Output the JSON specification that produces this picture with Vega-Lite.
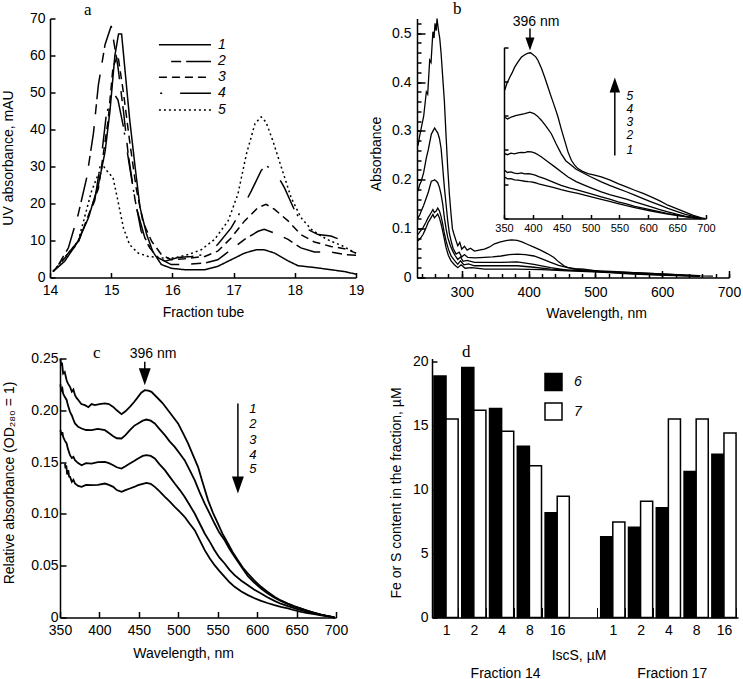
{
"$schema": "https://vega.github.io/schema/vega-lite/v6.json",
"background": "white",
"padding": {"left": 1, "top": -0.5, "right": 0, "bottom": 0},
"columns": 2,
"align": "none",
"bounds": "flush",
"spacing": {"row": 81, "column": 61},
"resolve": {"legend": {"fill": "independent"}},
"config": {
 "font": "Liberation Sans",
 "view": {"stroke": null},
 "axis": {"grid": false, "domainColor": "black", "domainWidth": 1.5, "tickColor": "black", "tickWidth": 1.5, "labelFont": "Liberation Sans", "labelFontSize": 14, "labelColor": "black", "titleFont": "Liberation Sans", "titleFontSize": 14, "titleFontWeight": "normal", "titleColor": "black", "labelFlush": false, "labelOverlap": false, "labelBound": false},
 "legend": {"labelFont": "Liberation Sans"},
 "text": {"font": "Liberation Sans", "fontSize": 14, "color": "black"}
},
"datasets": {
 "a": [
  {"s":"1","x":14.05,"y":1.6},{"s":"1","x":14.24,"y":4.4},{"s":"1","x":14.46,"y":9.8},{"s":"1","x":14.63,"y":16.2},{"s":"1","x":14.79,"y":25},{"s":"1","x":14.9,"y":34},{"s":"1","x":14.98,"y":45},{"s":"1","x":15.06,"y":60},{"s":"1","x":15.12,"y":65.8},{"s":"1","x":15.17,"y":65.8},{"s":"1","x":15.22,"y":57},{"s":"1","x":15.3,"y":43},{"s":"1","x":15.39,"y":30},{"s":"1","x":15.47,"y":19},{"s":"1","x":15.58,"y":11.6},{"s":"1","x":15.68,"y":7},{"s":"1","x":15.82,"y":3.5},{"s":"1","x":15.98,"y":2.5},{"s":"1","x":16.2,"y":2.1},{"s":"1","x":16.53,"y":2.1},{"s":"1","x":16.74,"y":3},{"s":"1","x":16.96,"y":4.8},{"s":"1","x":17.18,"y":6.6},{"s":"1","x":17.37,"y":7.5},{"s":"1","x":17.5,"y":7.5},{"s":"1","x":17.67,"y":6.6},{"s":"1","x":17.89,"y":4.5},{"s":"1","x":18.05,"y":3.2},{"s":"1","x":18.32,"y":2.7},{"s":"1","x":18.59,"y":2.1},{"s":"1","x":18.81,"y":1.6},{"s":"1","x":19,"y":0.9},
  {"s":"2","x":14.14,"y":3.5},{"s":"2","x":14.3,"y":8},{"s":"2","x":14.46,"y":17},{"s":"2","x":14.6,"y":27},{"s":"2","x":14.71,"y":39},{"s":"2","x":14.79,"y":52},{"s":"2","x":14.9,"y":63},{"s":"2","x":15.0,"y":68},{"s":"2","x":15.11,"y":57},{"s":"2","x":15.2,"y":45},{"s":"2","x":15.28,"y":33},{"s":"2","x":15.39,"y":21},{"s":"2","x":15.49,"y":12.5},{"s":"2","x":15.63,"y":8},{"s":"2","x":15.77,"y":5.3},{"s":"2","x":15.98,"y":3.5},{"s":"2","x":16.2,"y":3.5},{"s":"2","x":16.53,"y":3.9},{"s":"2","x":16.74,"y":4.8},{"s":"2","x":16.96,"y":7.5},{"s":"2","x":17.18,"y":10.3},{"s":"2","x":17.4,"y":12.5},{"s":"2","x":17.5,"y":13},{"s":"2","x":17.67,"y":12},{"s":"2","x":17.89,"y":10.3},{"s":"2","x":18.1,"y":8},{"s":"2","x":18.32,"y":6.9},{"s":"2","x":18.59,"y":6.9},{"s":"2","x":18.81,"y":6.2},{"s":"2","x":19,"y":6},
  {"s":"3","x":14.05,"y":1.6},{"s":"3","x":14.46,"y":9.4},{"s":"3","x":14.79,"y":24},{"s":"3","x":14.95,"y":42.5},{"s":"3","x":15.03,"y":57},{"s":"3","x":15.11,"y":60},{"s":"3","x":15.2,"y":50},{"s":"3","x":15.3,"y":37},{"s":"3","x":15.41,"y":24},{"s":"3","x":15.52,"y":15},{"s":"3","x":15.66,"y":9.8},{"s":"3","x":15.82,"y":6.2},{"s":"3","x":15.98,"y":4.8},{"s":"3","x":16.2,"y":5.1},{"s":"3","x":16.53,"y":5.7},{"s":"3","x":16.74,"y":7.1},{"s":"3","x":16.96,"y":10.7},{"s":"3","x":17.18,"y":15.3},{"s":"3","x":17.4,"y":18.9},{"s":"3","x":17.53,"y":19.8},{"s":"3","x":17.67,"y":18.4},{"s":"3","x":17.89,"y":15.3},{"s":"3","x":18.1,"y":11.6},{"s":"3","x":18.32,"y":9.6},{"s":"3","x":18.59,"y":8.4},{"s":"3","x":18.81,"y":7.8},{"s":"3","x":19,"y":6.6},
  {"s":"4","x":14.05,"y":1.6},{"s":"4","x":14.46,"y":9.8},{"s":"4","x":14.73,"y":20.7},{"s":"4","x":14.84,"y":32.5},{"s":"4","x":14.92,"y":44},{"s":"4","x":15.0,"y":49},{"s":"4","x":15.06,"y":49.3},{"s":"4","x":15.11,"y":48},{"s":"4","x":15.2,"y":40.7},{"s":"4","x":15.3,"y":30},{"s":"4","x":15.41,"y":19},{"s":"4","x":15.55,"y":10.7},{"s":"4","x":15.71,"y":6.2},{"s":"4","x":15.88,"y":4.4},{"s":"4","x":16.09,"y":5.4},{"s":"4","x":16.31,"y":5.7},{"s":"4","x":16.53,"y":6.2},{"s":"4","x":16.74,"y":8.9},{"s":"4","x":16.96,"y":13.4},{"s":"4","x":17.12,"y":18},{"s":"4","x":17.29,"y":23.4},{"s":"4","x":17.45,"y":28.9},{"s":"4","x":17.53,"y":30.2},{"s":"4","x":17.67,"y":28.9},{"s":"4","x":17.83,"y":24.3},{"s":"4","x":17.99,"y":18.4},{"s":"4","x":18.16,"y":13.4},{"s":"4","x":18.38,"y":11.6},{"s":"4","x":18.59,"y":11.2},{"s":"4","x":18.7,"y":10.5},
  {"s":"5","x":14.05,"y":1.6},{"s":"5","x":14.46,"y":9.8},{"s":"5","x":14.68,"y":23.4},{"s":"5","x":14.79,"y":28},{"s":"5","x":14.87,"y":30.2},{"s":"5","x":14.95,"y":28.4},{"s":"5","x":15.03,"y":27},{"s":"5","x":15.11,"y":20.7},{"s":"5","x":15.2,"y":13.4},{"s":"5","x":15.3,"y":8.9},{"s":"5","x":15.44,"y":6.6},{"s":"5","x":15.6,"y":5.7},{"s":"5","x":15.82,"y":5.3},{"s":"5","x":16.04,"y":5.3},{"s":"5","x":16.26,"y":6.2},{"s":"5","x":16.47,"y":7.5},{"s":"5","x":16.69,"y":10.3},{"s":"5","x":16.91,"y":15.3},{"s":"5","x":17.07,"y":22.5},{"s":"5","x":17.21,"y":33.4},{"s":"5","x":17.35,"y":41.6},{"s":"5","x":17.45,"y":43.4},{"s":"5","x":17.53,"y":42},{"s":"5","x":17.64,"y":37},{"s":"5","x":17.78,"y":29.8},{"s":"5","x":17.94,"y":21.6},{"s":"5","x":18.1,"y":16.2},{"s":"5","x":18.27,"y":13},{"s":"5","x":18.43,"y":11.2},{"s":"5","x":18.59,"y":9.8},{"s":"5","x":18.76,"y":8.7},{"s":"5","x":19,"y":6.6}
 ],
 "aleg": [
  {"s":"1","x1":15.78,"x2":16.63,"y":62.9,"lx":16.81},
  {"s":"2","x1":15.98,"x2":16.63,"y":58.4,"lx":16.81},
  {"s":"3","x1":15.78,"x2":16.63,"y":54.1,"lx":16.81},
  {"s":"4","x1":15.8,"x2":16.63,"y":49.8,"lx":16.81},
  {"s":"5","x1":15.78,"x2":16.63,"y":45.3,"lx":16.81}
 ],
 "b": [
  {"s":"5","x":234.5,"y":0.27},{"s":"5","x":237,"y":0.29},{"s":"5","x":239.4,"y":0.306},{"s":"5","x":243,"y":0.33},{"s":"5","x":247,"y":0.38},{"s":"5","x":249,"y":0.375},{"s":"5","x":252,"y":0.445},{"s":"5","x":254,"y":0.44},{"s":"5","x":256.8,"y":0.503},{"s":"5","x":258.5,"y":0.49},{"s":"5","x":260,"y":0.52},{"s":"5","x":261.7,"y":0.505},{"s":"5","x":263,"y":0.53},{"s":"5","x":265,"y":0.507},{"s":"5","x":267,"y":0.49},{"s":"5","x":269,"y":0.46},{"s":"5","x":271.5,"y":0.41},{"s":"5","x":274,"y":0.36},{"s":"5","x":276.5,"y":0.29},{"s":"5","x":279,"y":0.224},{"s":"5","x":281.5,"y":0.17},{"s":"5","x":284,"y":0.129},{"s":"5","x":286,"y":0.1},{"s":"5","x":288,"y":0.09},{"s":"5","x":291.5,"y":0.075},{"s":"5","x":294,"y":0.065},{"s":"5","x":297,"y":0.072},{"s":"5","x":300,"y":0.058},{"s":"5","x":304,"y":0.064},{"s":"5","x":308,"y":0.056},{"s":"5","x":313,"y":0.06},{"s":"5","x":319,"y":0.054},{"s":"5","x":326,"y":0.056},{"s":"5","x":334,"y":0.058},{"s":"5","x":341,"y":0.062},{"s":"5","x":349,"y":0.069},{"s":"5","x":358,"y":0.073},{"s":"5","x":368,"y":0.076},{"s":"5","x":375,"y":0.077},{"s":"5","x":383,"y":0.076},{"s":"5","x":390,"y":0.073},{"s":"5","x":398,"y":0.068},{"s":"5","x":408,"y":0.062},{"s":"5","x":418,"y":0.056},{"s":"5","x":428,"y":0.049},{"s":"5","x":438,"y":0.041},{"s":"5","x":445,"y":0.032},{"s":"5","x":453,"y":0.024},{"s":"5","x":460,"y":0.02},{"s":"5","x":468,"y":0.017},{"s":"5","x":487,"y":0.015},{"s":"5","x":507,"y":0.0136},{"s":"5","x":532,"y":0.012},{"s":"5","x":557,"y":0.01},{"s":"5","x":582,"y":0.0085},{"s":"5","x":606,"y":0.0068},{"s":"5","x":631,"y":0.005},{"s":"5","x":656,"y":0.0034},{"s":"5","x":676,"y":0.003},
  {"s":"4","x":234.5,"y":0.177},{"s":"4","x":237,"y":0.19},{"s":"4","x":239.4,"y":0.197},{"s":"4","x":243,"y":0.215},{"s":"4","x":247,"y":0.245},{"s":"4","x":250,"y":0.262},{"s":"4","x":254.4,"y":0.293},{"s":"4","x":257,"y":0.3},{"s":"4","x":259.4,"y":0.306},{"s":"4","x":262,"y":0.3},{"s":"4","x":264,"y":0.296},{"s":"4","x":266.5,"y":0.285},{"s":"4","x":269,"y":0.265},{"s":"4","x":271.5,"y":0.225},{"s":"4","x":274,"y":0.184},{"s":"4","x":276.5,"y":0.15},{"s":"4","x":279,"y":0.116},{"s":"4","x":281.5,"y":0.09},{"s":"4","x":284,"y":0.075},{"s":"4","x":287,"y":0.06},{"s":"4","x":291.5,"y":0.048},{"s":"4","x":296,"y":0.052},{"s":"4","x":300,"y":0.042},{"s":"4","x":304,"y":0.047},{"s":"4","x":309,"y":0.041},{"s":"4","x":320,"y":0.04},{"s":"4","x":334,"y":0.041},{"s":"4","x":346,"y":0.042},{"s":"4","x":359,"y":0.044},{"s":"4","x":371,"y":0.047},{"s":"4","x":383,"y":0.048},{"s":"4","x":395,"y":0.047},{"s":"4","x":408,"y":0.044},{"s":"4","x":420,"y":0.038},{"s":"4","x":433,"y":0.031},{"s":"4","x":445,"y":0.025},{"s":"4","x":458,"y":0.02},{"s":"4","x":470,"y":0.018},{"s":"4","x":483,"y":0.017},{"s":"4","x":507,"y":0.012},{"s":"4","x":532,"y":0.011},{"s":"4","x":557,"y":0.01},{"s":"4","x":582,"y":0.0085},{"s":"4","x":606,"y":0.007},{"s":"4","x":631,"y":0.0055},{"s":"4","x":656,"y":0.004},
  {"s":"3","x":234.5,"y":0.122},{"s":"3","x":237,"y":0.128},{"s":"3","x":239.4,"y":0.136},{"s":"3","x":243,"y":0.148},{"s":"3","x":247,"y":0.163},{"s":"3","x":250,"y":0.175},{"s":"3","x":254.4,"y":0.197},{"s":"3","x":257,"y":0.198},{"s":"3","x":259.4,"y":0.2},{"s":"3","x":262,"y":0.197},{"s":"3","x":264,"y":0.194},{"s":"3","x":266.5,"y":0.185},{"s":"3","x":269,"y":0.17},{"s":"3","x":271.5,"y":0.15},{"s":"3","x":274,"y":0.122},{"s":"3","x":276.5,"y":0.1},{"s":"3","x":279,"y":0.082},{"s":"3","x":283,"y":0.065},{"s":"3","x":286.5,"y":0.054},{"s":"3","x":290,"y":0.045},{"s":"3","x":294,"y":0.037},{"s":"3","x":298,"y":0.042},{"s":"3","x":302,"y":0.033},{"s":"3","x":308,"y":0.035},{"s":"3","x":319,"y":0.031},{"s":"3","x":339,"y":0.031},{"s":"3","x":359,"y":0.031},{"s":"3","x":383,"y":0.032},{"s":"3","x":408,"y":0.027},{"s":"3","x":433,"y":0.02},{"s":"3","x":458,"y":0.015},{"s":"3","x":483,"y":0.0135},{"s":"3","x":507,"y":0.012},{"s":"3","x":557,"y":0.009},{"s":"3","x":606,"y":0.0055},{"s":"3","x":656,"y":0.0027},
  {"s":"2","x":234.5,"y":0.088},{"s":"2","x":238,"y":0.095},{"s":"2","x":242,"y":0.102},{"s":"2","x":246,"y":0.112},{"s":"2","x":249.5,"y":0.122},{"s":"2","x":253,"y":0.13},{"s":"2","x":256.8,"y":0.139},{"s":"2","x":259,"y":0.133},{"s":"2","x":261.7,"y":0.136},{"s":"2","x":264,"y":0.142},{"s":"2","x":266.6,"y":0.136},{"s":"2","x":269,"y":0.125},{"s":"2","x":271.5,"y":0.109},{"s":"2","x":274,"y":0.09},{"s":"2","x":276.5,"y":0.075},{"s":"2","x":280,"y":0.058},{"s":"2","x":284,"y":0.044},{"s":"2","x":289,"y":0.035},{"s":"2","x":294,"y":0.027},{"s":"2","x":298,"y":0.034},{"s":"2","x":303,"y":0.026},{"s":"2","x":310,"y":0.028},{"s":"2","x":319,"y":0.024},{"s":"2","x":359,"y":0.024},{"s":"2","x":383,"y":0.024},{"s":"2","x":408,"y":0.021},{"s":"2","x":433,"y":0.017},{"s":"2","x":483,"y":0.0136},{"s":"2","x":557,"y":0.008},{"s":"2","x":606,"y":0.005},{"s":"2","x":656,"y":0.0027},
  {"s":"1","x":234.5,"y":0.075},{"s":"1","x":238,"y":0.08},{"s":"1","x":242,"y":0.088},{"s":"1","x":246,"y":0.1},{"s":"1","x":249.5,"y":0.112},{"s":"1","x":253,"y":0.12},{"s":"1","x":256.8,"y":0.129},{"s":"1","x":259,"y":0.122},{"s":"1","x":261.7,"y":0.126},{"s":"1","x":264,"y":0.13},{"s":"1","x":266.6,"y":0.122},{"s":"1","x":269,"y":0.11},{"s":"1","x":271.5,"y":0.095},{"s":"1","x":274,"y":0.078},{"s":"1","x":276.5,"y":0.061},{"s":"1","x":280,"y":0.045},{"s":"1","x":284,"y":0.034},{"s":"1","x":289,"y":0.026},{"s":"1","x":294,"y":0.02},{"s":"1","x":299,"y":0.026},{"s":"1","x":305,"y":0.019},{"s":"1","x":315,"y":0.02},{"s":"1","x":334,"y":0.017},{"s":"1","x":383,"y":0.017},{"s":"1","x":420,"y":0.016},{"s":"1","x":458,"y":0.0136},{"s":"1","x":507,"y":0.011},{"s":"1","x":557,"y":0.0068},{"s":"1","x":606,"y":0.0045},{"s":"1","x":656,"y":0.0027}
 ],
 "bin": [
  {"s":"5","x":351,"y":0.0598},{"s":"5","x":355,"y":0.063},{"s":"5","x":360,"y":0.066},{"s":"5","x":364,"y":0.068},{"s":"5","x":368.5,"y":0.0707},{"s":"5","x":374,"y":0.073},{"s":"5","x":380,"y":0.0753},{"s":"5","x":386,"y":0.0765},{"s":"5","x":391.6,"y":0.0772},{"s":"5","x":396,"y":0.0774},{"s":"5","x":400,"y":0.0766},{"s":"5","x":405,"y":0.0755},{"s":"5","x":409,"y":0.0738},{"s":"5","x":415,"y":0.07},{"s":"5","x":420.5,"y":0.066},{"s":"5","x":426,"y":0.0615},{"s":"5","x":432,"y":0.0567},{"s":"5","x":438,"y":0.052},{"s":"5","x":443.6,"y":0.0474},{"s":"5","x":449,"y":0.042},{"s":"5","x":455,"y":0.0365},{"s":"5","x":461,"y":0.031},{"s":"5","x":466.7,"y":0.0272},{"s":"5","x":472,"y":0.025},{"s":"5","x":478,"y":0.0233},{"s":"5","x":486,"y":0.022},{"s":"5","x":495.6,"y":0.021},{"s":"5","x":507,"y":0.0203},{"s":"5","x":518.6,"y":0.0194},{"s":"5","x":533,"y":0.018},{"s":"5","x":547.6,"y":0.0163},{"s":"5","x":562,"y":0.0148},{"s":"5","x":576.5,"y":0.0132},{"s":"5","x":591,"y":0.0117},{"s":"5","x":605,"y":0.0101},{"s":"5","x":620,"y":0.0082},{"s":"5","x":634,"y":0.0062},{"s":"5","x":649,"y":0.0046},{"s":"5","x":663,"y":0.0031},{"s":"5","x":678,"y":0.0015},{"s":"5","x":692,"y":0.0003},{"s":"5","x":698,"y":0},
  {"s":"4","x":351,"y":0.0474},{"s":"4","x":356,"y":0.0465},{"s":"4","x":362.6,"y":0.0474},{"s":"4","x":370,"y":0.048},{"s":"4","x":378,"y":0.0485},{"s":"4","x":386,"y":0.049},{"s":"4","x":395,"y":0.0497},{"s":"4","x":402,"y":0.049},{"s":"4","x":408,"y":0.0478},{"s":"4","x":415,"y":0.0458},{"s":"4","x":423,"y":0.043},{"s":"4","x":432,"y":0.0396},{"s":"4","x":440,"y":0.035},{"s":"4","x":449,"y":0.0303},{"s":"4","x":457,"y":0.027},{"s":"4","x":466.7,"y":0.0249},{"s":"4","x":475,"y":0.023},{"s":"4","x":484,"y":0.0217},{"s":"4","x":500,"y":0.0195},{"s":"4","x":518.6,"y":0.0171},{"s":"4","x":533,"y":0.0155},{"s":"4","x":547.6,"y":0.014},{"s":"4","x":562,"y":0.0125},{"s":"4","x":576.5,"y":0.0109},{"s":"4","x":591,"y":0.0093},{"s":"4","x":605,"y":0.0078},{"s":"4","x":620,"y":0.0062},{"s":"4","x":634,"y":0.0047},{"s":"4","x":649,"y":0.0033},{"s":"4","x":663,"y":0.002},{"s":"4","x":678,"y":0.001},{"s":"4","x":692,"y":0.0002},
  {"s":"3","x":351,"y":0.0303},{"s":"3","x":356,"y":0.0298},{"s":"3","x":362,"y":0.0305},{"s":"3","x":368,"y":0.0302},{"s":"3","x":374.3,"y":0.0306},{"s":"3","x":380,"y":0.0309},{"s":"3","x":386,"y":0.0308},{"s":"3","x":391,"y":0.0312},{"s":"3","x":397.4,"y":0.0311},{"s":"3","x":404,"y":0.0305},{"s":"3","x":409,"y":0.0298},{"s":"3","x":415,"y":0.0287},{"s":"3","x":426,"y":0.0265},{"s":"3","x":438,"y":0.0241},{"s":"3","x":449,"y":0.0218},{"s":"3","x":461,"y":0.0194},{"s":"3","x":475,"y":0.0172},{"s":"3","x":490,"y":0.0155},{"s":"3","x":504,"y":0.014},{"s":"3","x":518.6,"y":0.0124},{"s":"3","x":533,"y":0.0112},{"s":"3","x":547.6,"y":0.0101},{"s":"3","x":562,"y":0.009},{"s":"3","x":576.5,"y":0.0078},{"s":"3","x":591,"y":0.0066},{"s":"3","x":605,"y":0.0054},{"s":"3","x":620,"y":0.0042},{"s":"3","x":634,"y":0.0031},{"s":"3","x":649,"y":0.002},{"s":"3","x":663,"y":0.0011},{"s":"3","x":678,"y":0.0004},{"s":"3","x":692,"y":0},
  {"s":"2","x":351,"y":0.0225},{"s":"2","x":356,"y":0.0215},{"s":"2","x":362,"y":0.0218},{"s":"2","x":368,"y":0.0212},{"s":"2","x":374,"y":0.021},{"s":"2","x":380,"y":0.0213},{"s":"2","x":386,"y":0.0208},{"s":"2","x":392,"y":0.0209},{"s":"2","x":397.4,"y":0.0207},{"s":"2","x":404,"y":0.0203},{"s":"2","x":410,"y":0.0196},{"s":"2","x":420.5,"y":0.0186},{"s":"2","x":435,"y":0.017},{"s":"2","x":449,"y":0.0155},{"s":"2","x":463,"y":0.0143},{"s":"2","x":478,"y":0.0132},{"s":"2","x":498,"y":0.0117},{"s":"2","x":518.6,"y":0.0101},{"s":"2","x":533,"y":0.009},{"s":"2","x":547.6,"y":0.0078},{"s":"2","x":562,"y":0.0068},{"s":"2","x":576.5,"y":0.0057},{"s":"2","x":605,"y":0.004},{"s":"2","x":634,"y":0.0023},{"s":"2","x":663,"y":0.001},{"s":"2","x":692,"y":0},
  {"s":"1","x":351,"y":0.0194},{"s":"1","x":356,"y":0.0185},{"s":"1","x":362,"y":0.0186},{"s":"1","x":368,"y":0.018},{"s":"1","x":374,"y":0.0179},{"s":"1","x":380,"y":0.0177},{"s":"1","x":386,"y":0.0174},{"s":"1","x":392,"y":0.0172},{"s":"1","x":397.4,"y":0.0171},{"s":"1","x":404,"y":0.0167},{"s":"1","x":410,"y":0.0162},{"s":"1","x":420.5,"y":0.0155},{"s":"1","x":435,"y":0.0145},{"s":"1","x":449,"y":0.0135},{"s":"1","x":463,"y":0.0126},{"s":"1","x":478,"y":0.0117},{"s":"1","x":498,"y":0.0103},{"s":"1","x":518.6,"y":0.0089},{"s":"1","x":533,"y":0.008},{"s":"1","x":547.6,"y":0.007},{"s":"1","x":562,"y":0.006},{"s":"1","x":576.5,"y":0.0051},{"s":"1","x":605,"y":0.0035},{"s":"1","x":634,"y":0.002},{"s":"1","x":663,"y":0.0009},{"s":"1","x":692,"y":0}
 ],
 "barr": [
  {"x":395,"y1":0.0887,"y2":0.0815,"dir":"down"},
  {"x":542,"y1":0.0294,"y2":0.0623,"dir":"up"}
 ],
 "btext": [{"x":405.5,"y":0.0917,"t":"396 nm"}],
 "blab": [
  {"x":568,"y":0.0574,"t":"5"},{"x":568,"y":0.0512,"t":"4"},{"x":568,"y":0.045,"t":"3"},{"x":568,"y":0.0388,"t":"2"},{"x":568,"y":0.0318,"t":"1"}
 ],
 "c": [
  {"s":"1","x":350.5,"y":0.25},{"s":"1","x":351.5,"y":0.243},{"s":"1","x":352.5,"y":0.246},{"s":"1","x":354,"y":0.2355},{"s":"1","x":356,"y":0.237},{"s":"1","x":358.4,"y":0.229},{"s":"1","x":360,"y":0.226},{"s":"1","x":362.7,"y":0.2227},{"s":"1","x":365,"y":0.218},{"s":"1","x":367,"y":0.22},{"s":"1","x":369,"y":0.2146},{"s":"1","x":371,"y":0.212},{"s":"1","x":373.2,"y":0.21},{"s":"1","x":377,"y":0.206},{"s":"1","x":381.6,"y":0.205},{"s":"1","x":386,"y":0.203},{"s":"1","x":390,"y":0.206},{"s":"1","x":394.3,"y":0.205},{"s":"1","x":400,"y":0.206},{"s":"1","x":407,"y":0.2066},{"s":"1","x":412,"y":0.206},{"s":"1","x":417.5,"y":0.2033},{"s":"1","x":422,"y":0.2},{"s":"1","x":428,"y":0.1963},{"s":"1","x":433,"y":0.199},{"s":"1","x":438.6,"y":0.2033},{"s":"1","x":444,"y":0.208},{"s":"1","x":449,"y":0.213},{"s":"1","x":453,"y":0.217},{"s":"1","x":457.5,"y":0.2194},{"s":"1","x":462,"y":0.219},{"s":"1","x":466,"y":0.2178},{"s":"1","x":474.4,"y":0.2114},{"s":"1","x":480,"y":0.207},{"s":"1","x":487,"y":0.2},{"s":"1","x":493,"y":0.194},{"s":"1","x":499.7,"y":0.1873},{"s":"1","x":506,"y":0.178},{"s":"1","x":512.4,"y":0.168},{"s":"1","x":518,"y":0.158},{"s":"1","x":525,"y":0.1454},{"s":"1","x":531,"y":0.13},{"s":"1","x":537.7,"y":0.1133},{"s":"1","x":544,"y":0.101},{"s":"1","x":550.3,"y":0.0907},{"s":"1","x":556,"y":0.081},{"s":"1","x":563,"y":0.0714},{"s":"1","x":569,"y":0.063},{"s":"1","x":575.6,"y":0.0553},{"s":"1","x":582,"y":0.048},{"s":"1","x":588.3,"y":0.0425},{"s":"1","x":596,"y":0.036},{"s":"1","x":605,"y":0.0296},{"s":"1","x":613,"y":0.025},{"s":"1","x":622,"y":0.02},{"s":"1","x":630,"y":0.0165},{"s":"1","x":639,"y":0.0135},{"s":"1","x":647,"y":0.011},{"s":"1","x":655.8,"y":0.0087},{"s":"1","x":664,"y":0.0065},{"s":"1","x":672.6,"y":0.0045},{"s":"1","x":681,"y":0.0028},{"s":"1","x":689.5,"y":0.0013},{"s":"1","x":698,"y":0},
  {"s":"2","x":350.5,"y":0.225},{"s":"2","x":351.5,"y":0.219},{"s":"2","x":353,"y":0.221},{"s":"2","x":354,"y":0.216},{"s":"2","x":356,"y":0.213},{"s":"2","x":358.4,"y":0.21},{"s":"2","x":360,"y":0.205},{"s":"2","x":362.7,"y":0.1985},{"s":"2","x":365,"y":0.195},{"s":"2","x":367,"y":0.191},{"s":"2","x":369,"y":0.1873},{"s":"2","x":373,"y":0.184},{"s":"2","x":377.4,"y":0.1824},{"s":"2","x":383,"y":0.181},{"s":"2","x":390,"y":0.1808},{"s":"2","x":398,"y":0.182},{"s":"2","x":407,"y":0.1808},{"s":"2","x":412,"y":0.178},{"s":"2","x":417.5,"y":0.175},{"s":"2","x":422,"y":0.173},{"s":"2","x":428,"y":0.1728},{"s":"2","x":433,"y":0.176},{"s":"2","x":438.6,"y":0.1808},{"s":"2","x":444,"y":0.185},{"s":"2","x":449,"y":0.1873},{"s":"2","x":455,"y":0.19},{"s":"2","x":459.7,"y":0.1911},{"s":"2","x":465,"y":0.19},{"s":"2","x":470.2,"y":0.1873},{"s":"2","x":476,"y":0.182},{"s":"2","x":483,"y":0.176},{"s":"2","x":489,"y":0.17},{"s":"2","x":495.5,"y":0.1647},{"s":"2","x":502,"y":0.158},{"s":"2","x":508,"y":0.1519},{"s":"2","x":514,"y":0.143},{"s":"2","x":520.8,"y":0.1326},{"s":"2","x":527,"y":0.121},{"s":"2","x":533.5,"y":0.11},{"s":"2","x":540,"y":0.1},{"s":"2","x":546,"y":0.0907},{"s":"2","x":552,"y":0.082},{"s":"2","x":558.8,"y":0.0746},{"s":"2","x":565,"y":0.066},{"s":"2","x":571.4,"y":0.0586},{"s":"2","x":580,"y":0.049},{"s":"2","x":588.3,"y":0.04},{"s":"2","x":596,"y":0.034},{"s":"2","x":605,"y":0.028},{"s":"2","x":613,"y":0.0235},{"s":"2","x":622,"y":0.019},{"s":"2","x":630,"y":0.016},{"s":"2","x":639,"y":0.0129},{"s":"2","x":647,"y":0.0105},{"s":"2","x":655.8,"y":0.0085},{"s":"2","x":664,"y":0.0063},{"s":"2","x":672.6,"y":0.0045},{"s":"2","x":681,"y":0.0028},{"s":"2","x":689.5,"y":0.0013},{"s":"2","x":698,"y":0},
  {"s":"3","x":350.5,"y":0.181},{"s":"3","x":352,"y":0.176},{"s":"3","x":353,"y":0.179},{"s":"3","x":354,"y":0.1744},{"s":"3","x":356,"y":0.171},{"s":"3","x":358.4,"y":0.168},{"s":"3","x":360,"y":0.163},{"s":"3","x":362.7,"y":0.1567},{"s":"3","x":365,"y":0.154},{"s":"3","x":367,"y":0.155},{"s":"3","x":369,"y":0.1519},{"s":"3","x":373,"y":0.149},{"s":"3","x":377.4,"y":0.147},{"s":"3","x":383,"y":0.149},{"s":"3","x":390,"y":0.1486},{"s":"3","x":398,"y":0.15},{"s":"3","x":407,"y":0.1503},{"s":"3","x":412,"y":0.149},{"s":"3","x":417.5,"y":0.147},{"s":"3","x":422,"y":0.145},{"s":"3","x":428,"y":0.1438},{"s":"3","x":433,"y":0.146},{"s":"3","x":438.6,"y":0.1486},{"s":"3","x":444,"y":0.151},{"s":"3","x":449,"y":0.1535},{"s":"3","x":455,"y":0.156},{"s":"3","x":459.7,"y":0.1567},{"s":"3","x":465,"y":0.156},{"s":"3","x":470.2,"y":0.1535},{"s":"3","x":476,"y":0.148},{"s":"3","x":483,"y":0.1422},{"s":"3","x":489,"y":0.136},{"s":"3","x":495.5,"y":0.1293},{"s":"3","x":502,"y":0.123},{"s":"3","x":508,"y":0.1165},{"s":"3","x":514,"y":0.109},{"s":"3","x":520.8,"y":0.1004},{"s":"3","x":527,"y":0.091},{"s":"3","x":533.5,"y":0.0811},{"s":"3","x":540,"y":0.073},{"s":"3","x":546,"y":0.065},{"s":"3","x":552,"y":0.058},{"s":"3","x":558.8,"y":0.0521},{"s":"3","x":565,"y":0.046},{"s":"3","x":571.4,"y":0.0409},{"s":"3","x":580,"y":0.0355},{"s":"3","x":588.3,"y":0.0312},{"s":"3","x":596,"y":0.027},{"s":"3","x":605,"y":0.0232},{"s":"3","x":613,"y":0.0195},{"s":"3","x":622,"y":0.0161},{"s":"3","x":630,"y":0.0133},{"s":"3","x":639,"y":0.0109},{"s":"3","x":647,"y":0.009},{"s":"3","x":655.8,"y":0.0071},{"s":"3","x":664,"y":0.0055},{"s":"3","x":672.6,"y":0.0039},{"s":"3","x":681,"y":0.0025},{"s":"3","x":689.5,"y":0.0013},{"s":"3","x":698,"y":0},
  {"s":"4","x":356.3,"y":0.1486},{"s":"4","x":357,"y":0.144},{"s":"4","x":358,"y":0.147},{"s":"4","x":359,"y":0.138},{"s":"4","x":360.5,"y":0.1422},{"s":"4","x":361.5,"y":0.136},{"s":"4","x":362.7,"y":0.1358},{"s":"4","x":365,"y":0.131},{"s":"4","x":367,"y":0.133},{"s":"4","x":369,"y":0.1293},{"s":"4","x":373,"y":0.127},{"s":"4","x":377.4,"y":0.1261},{"s":"4","x":383,"y":0.128},{"s":"4","x":390,"y":0.1277},{"s":"4","x":398,"y":0.128},{"s":"4","x":407,"y":0.1293},{"s":"4","x":412,"y":0.128},{"s":"4","x":417.5,"y":0.1261},{"s":"4","x":422,"y":0.123},{"s":"4","x":428,"y":0.1213},{"s":"4","x":433,"y":0.123},{"s":"4","x":438.6,"y":0.1245},{"s":"4","x":444,"y":0.126},{"s":"4","x":449,"y":0.1277},{"s":"4","x":455,"y":0.129},{"s":"4","x":459.7,"y":0.13},{"s":"4","x":465,"y":0.129},{"s":"4","x":470.2,"y":0.1261},{"s":"4","x":476,"y":0.122},{"s":"4","x":483,"y":0.1165},{"s":"4","x":489,"y":0.112},{"s":"4","x":495.5,"y":0.1068},{"s":"4","x":502,"y":0.102},{"s":"4","x":508,"y":0.0972},{"s":"4","x":514,"y":0.091},{"s":"4","x":520.8,"y":0.0843},{"s":"4","x":527,"y":0.075},{"s":"4","x":533.5,"y":0.065},{"s":"4","x":540,"y":0.057},{"s":"4","x":546,"y":0.0505},{"s":"4","x":552,"y":0.045},{"s":"4","x":558.8,"y":0.0393},{"s":"4","x":565,"y":0.034},{"s":"4","x":571.4,"y":0.0296},{"s":"4","x":580,"y":0.025},{"s":"4","x":588.3,"y":0.0216},{"s":"4","x":596,"y":0.0188},{"s":"4","x":605,"y":0.0161},{"s":"4","x":613,"y":0.014},{"s":"4","x":622,"y":0.0119},{"s":"4","x":630,"y":0.0103},{"s":"4","x":639,"y":0.0087},{"s":"4","x":647,"y":0.007},{"s":"4","x":655.8,"y":0.0055},{"s":"4","x":664,"y":0.0043},{"s":"4","x":672.6,"y":0.0032},{"s":"4","x":681,"y":0.002},{"s":"4","x":689.5,"y":0.0013},{"s":"4","x":698,"y":0}
 ],
 "carr": [
  {"x":457.5,"y1":0.2468,"y2":0.2325},
  {"x":575.6,"y1":0.2066,"y2":0.128}
 ],
 "ctext": [{"x":467.9,"y":0.2548,"t":"396 nm"}],
 "clab": [
  {"x":594.6,"y":0.2008,"t":"1"},{"x":594.6,"y":0.1866,"t":"2"},{"x":594.6,"y":0.1718,"t":"3"},{"x":594.6,"y":0.157,"t":"4"},{"x":594.6,"y":0.1429,"t":"5"}
 ],
 "d": [
  {"slot":"14-1","k":"6","v":18.83},{"slot":"14-1","k":"7","v":15.48},
  {"slot":"14-2","k":"6","v":19.5},{"slot":"14-2","k":"7","v":16.16},
  {"slot":"14-4","k":"6","v":16.31},{"slot":"14-4","k":"7","v":14.52},
  {"slot":"14-8","k":"6","v":13.35},{"slot":"14-8","k":"7","v":11.84},
  {"slot":"14-16","k":"6","v":8.16},{"slot":"14-16","k":"7","v":9.45},
  {"slot":"17-1","k":"6","v":6.29},{"slot":"17-1","k":"7","v":7.45},
  {"slot":"17-2","k":"6","v":7.04},{"slot":"17-2","k":"7","v":9.06},
  {"slot":"17-4","k":"6","v":8.55},{"slot":"17-4","k":"7","v":15.48},
  {"slot":"17-8","k":"6","v":11.38},{"slot":"17-8","k":"7","v":15.48},
  {"slot":"17-16","k":"6","v":12.73},{"slot":"17-16","k":"7","v":14.39}
 ],
 "dtext": [
  {"slot":"14-4","y":-4.37,"t":"Fraction 14"},
  {"slot":"17-4","y":-4.37,"t":"Fraction 17"}
 ]
},
"concat": [
 {
  "width": 306, "height": 259,
  "title": {"text": "a", "anchor": "start", "frame": "group", "dx": 34, "dy": 16, "offset": -4, "baseline": "alphabetic", "font": "Liberation Serif", "fontSize": 17, "fontWeight": "normal", "color": "black"},
  "layer": [
   {"data": {"name": "a"}, "mark": {"type": "line", "color": "black", "strokeWidth": 1.5},
    "encoding": {
     "x": {"field": "x", "type": "quantitative", "scale": {"domain": [14, 19], "nice": false}, "axis": {"values": [14,15,16,17,18,19], "format": "d", "title": "Fraction tube", "tickSize": -5, "labelPadding": 11, "titlePadding": 8, "labelOverlap": false}},
     "y": {"field": "y", "type": "quantitative", "scale": {"domain": [0, 70], "nice": false}, "axis": {"tickCount": 7, "title": "UV absorbance, mAU", "tickSize": -5, "labelPadding": 10, "titlePadding": 14, "titleY": 139, "labelOverlap": false}},
     "strokeDash": {"field": "s", "type": "nominal", "scale": {"domain": ["1","2","3","4","5"], "range": [[1,0],[10,5,25,12],[8,5],[2,18,32,6],[2,3]]}, "legend": null}
    }},
   {"data": {"name": "aleg"}, "mark": {"type": "rule", "color": "black", "strokeWidth": 1.5},
    "encoding": {"x": {"field": "x1", "type": "quantitative"}, "x2": {"field": "x2"}, "y": {"field": "y", "type": "quantitative"}, "strokeDash": {"field": "s", "type": "nominal", "legend": null}}},
   {"data": {"name": "aleg"}, "mark": {"type": "text", "fontStyle": "italic", "fontSize": 14, "align": "center", "baseline": "middle"},
    "encoding": {"x": {"field": "lx", "type": "quantitative"}, "y": {"field": "y", "type": "quantitative"}, "text": {"field": "s"}}}
  ]
 },
 {
  "width": 312, "height": 259,
  "title": {"text": "b", "anchor": "start", "frame": "group", "dx": 36, "dy": 17.5, "offset": 2, "baseline": "alphabetic", "font": "Liberation Serif", "fontSize": 17, "fontWeight": "normal", "color": "black"},
  "layer": [
   {
    "layer": [
     {"data": {"name": "b"}, "mark": {"type": "line", "color": "black", "strokeWidth": 1.3},
      "encoding": {
       "x": {"field": "x", "type": "quantitative", "scale": {"domain": [233, 700], "nice": false}, "axis": {"orient": "bottom", "values": [300,400,500,600,700], "format": "d", "title": "Wavelength, nm", "tickSize": -7, "labelPadding": 15, "titlePadding": 7, "titleX": 179, "labelOverlap": false}},
       "y": {"field": "y", "type": "quantitative", "scale": {"domain": [0, 0.53], "nice": false}, "axis": {"orient": "left", "values": [0,0.1,0.2,0.3,0.4,0.5], "labelExpr": "datum.value == 0 ? '0' : format(datum.value, '.1f')", "title": "Absorbance", "tickSize": -8, "labelPadding": 14, "titlePadding": 8, "titleY": 135, "labelOverlap": false}},
       "detail": {"field": "s", "type": "nominal"}
      }},
     {"data": {"name": "b"}, "mark": {"type": "line", "strokeOpacity": 0},
      "encoding": {
       "x": {"field": "x", "type": "quantitative", "scale": {"domain": [233, 700], "nice": false}, "axis": {"orient": "bottom", "values": [240,260,280,300,320,340,360,380,400,420,440,460,480,500,520,540,560,580,600,620,640,660,680,700], "labels": false, "domain": false, "title": null, "tickSize": -4}},
       "y": {"field": "y", "type": "quantitative", "scale": {"domain": [0, 0.53], "nice": false}, "axis": {"orient": "left", "values": [0,0.02,0.04,0.06,0.08,0.1,0.12,0.14,0.16,0.18,0.2,0.22,0.24,0.26,0.28,0.3,0.32,0.34,0.36,0.38,0.4,0.42,0.44,0.46,0.48,0.5,0.52], "labels": false, "domain": false, "title": null, "tickSize": -4}},
       "detail": {"field": "s", "type": "nominal"}
      }}
    ],
    "resolve": {"axis": {"x": "independent", "y": "independent"}}
   },
   {
    "layer": [
     {"data": {"name": "bin"}, "mark": {"type": "line", "color": "black", "strokeWidth": 1.3},
      "encoding": {
       "x": {"field": "x", "type": "quantitative", "scale": {"domain": [350, 700], "range": [87, 289], "nice": false}, "axis": {"orient": "bottom", "offset": -59, "values": [350,400,450,500,550,600,650,700], "format": "d", "labelFontSize": 11, "tickSize": -4, "labelPadding": 8, "title": null, "labelOverlap": false}},
       "y": {"field": "y", "type": "quantitative", "scale": {"domain": [0, 0.08], "range": [200, 28.7], "nice": false}, "axis": {"orient": "left", "offset": -87, "values": [0,0.004,0.008,0.012,0.016,0.02,0.024,0.028,0.032,0.036,0.04,0.044,0.048,0.052,0.056,0.06,0.064,0.068,0.072,0.076,0.08], "labels": false, "tickSize": -4, "title": null}},
       "detail": {"field": "s", "type": "nominal"}
      }},
     {"data": {"name": "barr"}, "mark": {"type": "rule", "color": "black", "strokeWidth": 1.5},
      "encoding": {"x": {"field": "x", "type": "quantitative"}, "y": {"field": "y1", "type": "quantitative"}, "y2": {"field": "y2"}}},
     {"data": {"name": "barr"}, "transform": [{"filter": "datum.dir == 'down'"}], "mark": {"type": "point", "shape": "M-0.7,-1L0.7,-1L0,1Z", "filled": true, "color": "black", "opacity": 1, "size": 169},
      "encoding": {"x": {"field": "x", "type": "quantitative"}, "y": {"field": "y2", "type": "quantitative"}}},
     {"data": {"name": "barr"}, "transform": [{"filter": "datum.dir == 'up'"}], "mark": {"type": "point", "shape": "M-0.7,1L0.7,1L0,-1Z", "filled": true, "color": "black", "opacity": 1, "size": 225},
      "encoding": {"x": {"field": "x", "type": "quantitative"}, "y": {"field": "y2", "type": "quantitative"}}},
     {"data": {"name": "btext"}, "mark": {"type": "text", "fontSize": 14, "align": "center", "baseline": "middle"},
      "encoding": {"x": {"field": "x", "type": "quantitative"}, "y": {"field": "y", "type": "quantitative"}, "text": {"field": "t"}}},
     {"data": {"name": "blab"}, "mark": {"type": "text", "fontSize": 12, "fontStyle": "italic", "align": "center", "baseline": "middle"},
      "encoding": {"x": {"field": "x", "type": "quantitative"}, "y": {"field": "y", "type": "quantitative"}, "text": {"field": "t"}}}
    ]
   }
  ],
  "resolve": {"scale": {"x": "independent", "y": "independent"}}
 },
 {
  "width": 306, "height": 259,
  "title": {"text": "c", "anchor": "start", "frame": "group", "dx": 43, "dy": 17, "offset": -11, "baseline": "alphabetic", "font": "Liberation Serif", "fontSize": 17, "fontWeight": "normal", "color": "black"},
  "layer": [
   {"data": {"name": "c"}, "mark": {"type": "line", "color": "black", "strokeWidth": 1.8},
    "encoding": {
     "x": {"field": "x", "type": "quantitative", "scale": {"domain": [350, 700], "range": [10, 286], "nice": false}, "axis": {"values": [350,400,450,500,550,600,650,700], "format": "d", "title": "Wavelength, nm", "tickSize": -6, "labelPadding": 12, "titlePadding": 9, "titleX": 133, "labelOverlap": false}},
     "y": {"field": "y", "type": "quantitative", "scale": {"domain": [0, 0.25], "nice": false}, "axis": {"values": [0,0.05,0.1,0.15,0.2,0.25], "labelExpr": "datum.value == 0 ? '0' : format(datum.value, '.2f')", "offset": -10, "title": "Relative absorbance (OD₂₈₀ = 1)", "tickSize": -6, "labelPadding": 8, "titlePadding": 14, "titleY": 124, "labelOverlap": false}},
     "detail": {"field": "s", "type": "nominal"}
    }},
   {"data": {"name": "carr"}, "mark": {"type": "rule", "color": "black", "strokeWidth": 1.5},
    "encoding": {"x": {"field": "x", "type": "quantitative"}, "y": {"field": "y1", "type": "quantitative"}, "y2": {"field": "y2"}}},
   {"data": {"name": "carr"}, "mark": {"type": "point", "shape": "M-0.7,-1L0.7,-1L0,1Z", "filled": true, "color": "black", "opacity": 1, "size": 289},
    "encoding": {"x": {"field": "x", "type": "quantitative"}, "y": {"field": "y2", "type": "quantitative"}}},
   {"data": {"name": "ctext"}, "mark": {"type": "text", "fontSize": 14, "align": "center", "baseline": "middle"},
    "encoding": {"x": {"field": "x", "type": "quantitative"}, "y": {"field": "y", "type": "quantitative"}, "text": {"field": "t"}}},
   {"data": {"name": "clab"}, "mark": {"type": "text", "fontSize": 13, "fontStyle": "italic", "align": "center", "baseline": "middle"},
    "encoding": {"x": {"field": "x", "type": "quantitative"}, "y": {"field": "y", "type": "quantitative"}, "text": {"field": "t"}}}
  ]
 },
 {
  "width": 321, "height": 259,
  "title": {"text": "d", "anchor": "start", "frame": "group", "dx": 45, "dy": 16.5, "offset": -3, "baseline": "alphabetic", "font": "Liberation Serif", "fontSize": 17, "fontWeight": "normal", "color": "black"},
  "layer": [
   {"data": {"name": "d"}, "mark": {"type": "bar", "stroke": "black", "strokeWidth": 1.5, "opacity": 1},
    "encoding": {
     "x": {"field": "slot", "type": "nominal", "sort": null, "scale": {"domain": ["14-1","14-2","14-4","14-8","14-16","gap","17-1","17-2","17-4","17-8","17-16"], "range": [15, 321], "paddingInner": 0.13, "paddingOuter": 0.07}, "axis": {"title": "IscS, µM", "labelExpr": "datum.value == 'gap' ? '' : split(datum.value, '-')[1]", "labelAngle": 0, "tickBand": "extent", "tickSize": -10, "tickWidth": 1, "labelPadding": 16, "titlePadding": 11, "titleX": 161.5, "labelOverlap": false}},
     "xOffset": {"field": "k", "type": "nominal", "sort": null},
     "y": {"field": "v", "type": "quantitative", "scale": {"domain": [0, 20.2], "nice": false}, "axis": {"values": [0,5,10,15,20], "format": "d", "offset": -15, "title": "Fe or S content in the fraction, µM", "tickSize": -5, "labelPadding": 9, "titlePadding": 9, "titleY": 134, "labelOverlap": false}},
     "fill": {"field": "k", "type": "nominal", "scale": {"domain": ["6","7"], "range": ["black","white"]}, "legend": {"orient": "none", "legendX": 127, "legendY": 14, "title": null, "symbolType": "square", "symbolSize": 289, "symbolStrokeColor": "black", "symbolStrokeWidth": 1.5, "symbolOpacity": 1, "labelFontSize": 14, "labelFontStyle": "italic", "labelOffset": 11, "rowPadding": 6.5}}
    }},
   {"data": {"name": "dtext"}, "mark": {"type": "text", "fontSize": 14, "align": "center", "baseline": "middle", "dx": 4},
    "encoding": {"x": {"field": "slot", "type": "nominal"}, "y": {"field": "y", "type": "quantitative"}, "text": {"field": "t"}}}
  ]
 }
]
}
